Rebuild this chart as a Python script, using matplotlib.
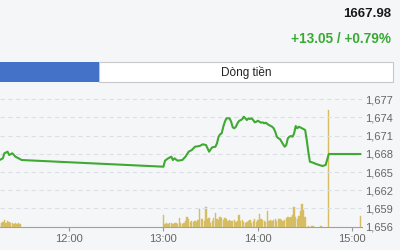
import matplotlib
matplotlib.use('Agg')
import matplotlib.pyplot as plt
from matplotlib.patches import Rectangle

plt.rcParams['font.family'] = ['Liberation Sans', 'DejaVu Sans']

# header
last_price = "1667.98"
change_text = "+13.05 / +0.79%"
tab_label = "Dòng tiền"

# index line (time, value)
line_times = ["11:16", "11:18", "11:19", "11:21", "11:22", "11:24", "11:26", "11:28", "11:30",
              "13:00", "13:01", "13:03", "13:05", "13:06", "13:07", "13:09", "13:12", "13:14",
              "13:16", "13:18", "13:20", "13:23", "13:25", "13:27", "13:28", "13:29", "13:30",
              "13:31", "13:33", "13:34", "13:35", "13:36", "13:37", "13:38", "13:39", "13:40",
              "13:42", "13:43", "13:44", "13:45", "13:46", "13:47", "13:48", "13:50", "13:51",
              "13:52", "13:53", "13:54", "13:55", "13:56", "13:57", "13:58", "13:59", "14:00",
              "14:01", "14:02", "14:03", "14:04", "14:05", "14:06", "14:07", "14:09", "14:10",
              "14:11", "14:12", "14:13", "14:14", "14:15", "14:16", "14:17", "14:18", "14:19",
              "14:20", "14:21", "14:22", "14:23", "14:24", "14:25", "14:26", "14:28", "14:30",
              "14:31", "14:32", "14:33", "14:35", "14:37", "14:41", "14:43", "14:45", "15:05"]
line_values = [1667.00, 1667.27, 1668.10, 1668.36, 1667.82, 1668.10, 1667.54, 1667.27, 1666.99,
               1665.89, 1666.88, 1667.27, 1667.54, 1666.99, 1667.27, 1666.88, 1666.99, 1667.54,
               1668.36, 1668.64, 1669.18, 1669.30, 1669.58, 1669.46, 1668.92, 1668.36, 1668.76,
               1669.08, 1669.18, 1669.74, 1670.83, 1671.23, 1671.39, 1672.48, 1673.30, 1673.86,
               1673.86, 1673.30, 1672.38, 1672.22, 1672.48, 1673.04, 1673.42, 1673.70, 1674.13,
               1673.86, 1673.58, 1673.86, 1673.75, 1673.86, 1673.58, 1673.20, 1673.30, 1673.47,
               1673.30, 1673.14, 1673.20, 1673.04, 1673.14, 1672.92, 1672.76, 1672.48, 1672.22,
               1671.66, 1670.83, 1670.57, 1670.45, 1670.01, 1669.58, 1669.18, 1669.46, 1670.57,
               1670.83, 1670.95, 1670.83, 1671.39, 1672.59, 1672.22, 1672.48, 1672.22, 1671.94,
               1670.29, 1668.36, 1666.71, 1666.55, 1666.33, 1666.00, 1666.17, 1667.98, 1667.98]

# volume bars (time, volume)
vol_times = ["11:%02d" % m for m in range(16, 30)] + \
            ["%d:%02d" % (13 + m // 60, m % 60) for m in range(0, 91)] + \
            ["14:32", "14:34", "14:35", "14:40", "14:45", "15:05"]
vol_values = [4, 4, 5, 7, 4, 6, 5, 4, 4, 3, 4, 3, 4, 3,
              12, 3, 4, 3, 4, 4, 3, 4, 4, 3, 9, 4, 3, 4, 6, 10, 8, 5, 6, 5,
              6, 5, 7, 18, 8, 8, 6, 20, 8, 9, 4, 6, 9, 14, 8, 7, 10, 9, 7, 9,
              8, 6, 7, 6, 6, 7, 5, 6, 12, 6, 7, 5, 4, 5, 6, 7, 4, 6, 8, 5,
              7, 13, 8, 7, 6, 5, 16, 6, 7, 6, 7, 8, 6, 8, 8, 7, 6, 7, 9, 10,
              9, 10, 12, 20, 10, 8, 11, 16, 23, 17, 10,
              1, 1, 1, 1, 117, 11]

y_ticks = [1656, 1659, 1662, 1665, 1668, 1671, 1674, 1677]
x_tick_labels = ["12:00", "13:00", "14:00", "15:00"]


def to_min(s):
    h, m = s.split(':')
    return int(h) * 60 + int(m)


bg = '#f5f6f8'
fig = plt.figure(figsize=(4, 2.5), dpi=100, facecolor=bg)

# header texts
fig.text(0.977, 0.943, last_price, ha='right', va='center', fontsize=9.5,
         fontweight='bold', color='#1a1a1a')
fig.text(0.977, 0.843, change_text, ha='right', va='center', fontsize=9.8,
         fontweight='bold', color='#3aa935')

# tab bar
fig.add_artist(Rectangle((0.2475, 0.672), 0.735, 0.08, transform=fig.transFigure,
                         facecolor='white', edgecolor='#c8c8c8', linewidth=0.8))
fig.add_artist(Rectangle((0, 0.672), 0.2475, 0.08, transform=fig.transFigure,
                         facecolor='#4472c9', edgecolor='none'))
fig.text(0.615, 0.71, tab_label, ha='center', va='center', fontsize=8.5, color='#222222')

# chart
ax_vol = fig.add_axes([0, 0.0932, 0.905, 0.5548])
ax = ax_vol.twinx()
ax.set_zorder(ax_vol.get_zorder() + 1)
ax.patch.set_visible(False)
ax_vol.set_facecolor(bg)

ax_vol.bar([to_min(t) for t in vol_times], vol_values, width=0.85, color='#d6bd62',
           edgecolor='#d6bd62', linewidth=0.3)
ax_vol.set_ylim(0, 138.7)
ax_vol.set_yticks([])

ax.plot([to_min(t) for t in line_times], line_values, color='#3fa934', linewidth=1.5)
ax.set_ylim(1656, 1678.86)
ax.set_yticks(y_ticks)
ax.set_yticklabels(['{:,}'.format(v) for v in y_ticks])
ax.tick_params(axis='y', length=0, pad=2.5, labelsize=8, labelcolor='#666666')
ax.grid(axis='y', color='#dcdfe5', linestyle=(0, (4, 3)), linewidth=0.8)

ax_vol.set_xlim(676.2, 906.1)
ax_vol.set_xticks([to_min(t) for t in x_tick_labels])
ax_vol.set_xticklabels(x_tick_labels)
ax_vol.tick_params(axis='x', length=3, width=0.8, color='#999999', pad=2,
                   labelsize=8, labelcolor='#666666')

for a in (ax, ax_vol):
    for side in ('top', 'left', 'right'):
        a.spines[side].set_visible(False)
    a.spines['bottom'].set_color('#a0a0a0')
    a.spines['bottom'].set_linewidth(0.8)
ax.spines['bottom'].set_visible(False)

fig.savefig('out.png', dpi=100, facecolor=bg)
